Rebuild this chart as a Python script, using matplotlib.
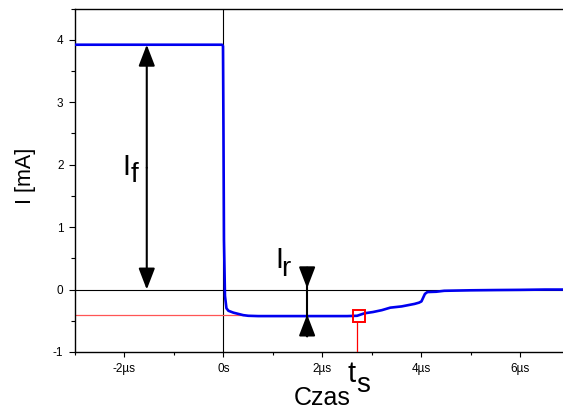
import matplotlib
matplotlib.use("Agg")
import matplotlib.pyplot as plt
from matplotlib.ticker import MultipleLocator, FixedLocator, FixedFormatter

plt.rcParams['font.family'] = ['Liberation Sans', 'DejaVu Sans']

# ---- data (time in microseconds, current in mA) ----
time_us = [-3.0, -0.03, -0.01, 0.0, 0.01, 0.03, 0.06, 0.1, 0.2, 0.3, 0.4, 0.5,
           0.7, 1.0, 1.5, 2.0, 2.5, 2.7, 2.85, 3.02, 3.2, 3.37, 3.6, 3.86, 3.95,
           4.0, 4.07, 4.12, 4.3, 4.46, 5.0, 5.5, 6.0, 6.5, 6.9]
current_ma = [3.92, 3.92, 3.90, 2.5, 0.8, -0.1, -0.30, -0.34, -0.37, -0.39, -0.41, -0.42,
              -0.425, -0.425, -0.425, -0.425, -0.425, -0.42, -0.38, -0.36, -0.33, -0.29, -0.27, -0.23, -0.21,
              -0.19, -0.07, -0.04, -0.035, -0.02, -0.012, -0.008, -0.005, 0.0, 0.0]

xticks = [-2, 0, 2, 4, 6]
xtick_labels = ['-2µs', '0s', '2µs', '4µs', '6µs']
yticks = [-1, 0, 1, 2, 3, 4]
ytick_labels = ['-1', '0', '1', '2', '3', '4']

i_forward = 3.92      # I_f level
i_reverse = -0.42     # I_r level
red_ref = -0.41
t_storage = 2.74      # t_s marker
t_storage_line = 2.70
if_arrow_x = -1.55
ir_arrow_x = 1.69

W, H = 563, 407
fig = plt.figure(figsize=(W / 100, H / 100), dpi=100)
ax_left, ax_right, ax_top, ax_bottom = 75, 563, 8.5, 352
ax = fig.add_axes([ax_left / W, 1 - ax_bottom / H, (ax_right - ax_left) / W, (ax_bottom - ax_top) / H])
ax.set_xlim(-3.0, 6.86)
ax.set_ylim(-1, 4.5)

for s in ['left', 'bottom', 'top']:
    ax.spines[s].set_linewidth(1.0)
    ax.spines[s].set_color('black')
ax.spines['right'].set_visible(False)

ax.xaxis.set_major_locator(FixedLocator(xticks))
ax.xaxis.set_major_formatter(FixedFormatter(xtick_labels))
ax.xaxis.set_minor_locator(MultipleLocator(1))
ax.yaxis.set_major_locator(FixedLocator(yticks))
ax.yaxis.set_major_formatter(FixedFormatter(ytick_labels))
ax.yaxis.set_minor_locator(MultipleLocator(0.5))
ax.tick_params(axis='both', which='major', direction='out', labelsize=8.5, width=0.8)
ax.tick_params(axis='x', which='major', length=3.8, pad=4)
ax.tick_params(axis='y', which='major', length=4.3, pad=4)
ax.tick_params(axis='x', which='minor', direction='out', length=2, width=0.8)
ax.tick_params(axis='y', which='minor', direction='out', length=2.8, width=0.8)

# reference lines
ax.axhline(0, color='black', lw=0.8, zorder=1)
ax.axvline(0, color='black', lw=0.8, zorder=1)
ax.plot([-3.0, 0.4], [red_ref, red_ref], color='#ff5555', lw=0.9, zorder=2)

# signal
ax.plot(time_us, current_ma, color='#0000f0', lw=1.9, zorder=3, solid_joinstyle='round')

# storage time marker
ax.plot([t_storage_line, t_storage_line], [-1, -0.52], color='#ff0000', lw=0.9, zorder=4)
ax.plot([t_storage], [i_reverse], marker='s', markersize=8, mfc='none', mec='#ff0000', mew=1.4, zorder=5)

# arrows
head = dict(arrowstyle='-|>,head_length=13,head_width=5', mutation_scale=1,
            color='black', lw=1.5, shrinkA=0, shrinkB=0)
ax.annotate('', xy=(if_arrow_x, i_forward), xytext=(if_arrow_x, 1.95), arrowprops=head)
ax.annotate('', xy=(if_arrow_x, 0.0), xytext=(if_arrow_x, 1.95), arrowprops=head)
ax.plot([ir_arrow_x, ir_arrow_x], [0.35, -0.75], color='black', lw=1.5, zorder=6)
ax.annotate('', xy=(ir_arrow_x, 0.02), xytext=(ir_arrow_x, 0.35), arrowprops=head)
ax.annotate('', xy=(ir_arrow_x, -0.40), xytext=(ir_arrow_x, -0.75), arrowprops=head)

def px(x, y):
    return x / W, 1 - y / H

# texts
fs_main = 21
fs_sub = 20
fig.text(*px(122.5, 175), 'I', fontsize=fs_main, ha='left', va='baseline')
fig.text(*px(131, 182), 'f', fontsize=fs_sub, ha='left', va='baseline')
fig.text(*px(275, 268.5), 'I', fontsize=fs_main, ha='left', va='baseline')
fig.text(*px(281.5, 275.5), 'r', fontsize=fs_sub, ha='left', va='baseline')
fig.text(*px(347.5, 382), 't', fontsize=fs_main, ha='left', va='baseline')
fig.text(*px(356, 392), 's', fontsize=fs_sub, ha='left', va='baseline')
fig.text(*px(322.5, 405), 'Czas', fontsize=18, ha='center', va='baseline')
fig.text(*px(25, 176), 'I [mA]', fontsize=15.5, ha='center', va='center', rotation=90)

fig.savefig('out.png', dpi=100)
